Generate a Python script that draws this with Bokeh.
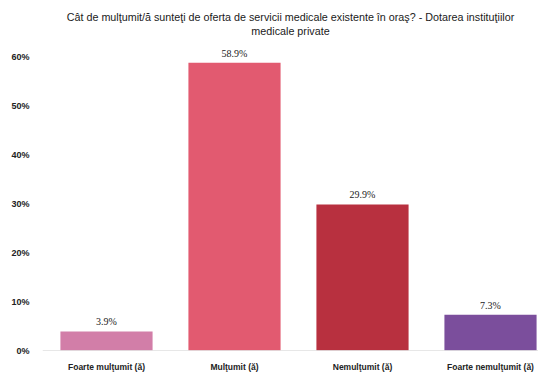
from bokeh.plotting import figure
from bokeh.models import ColumnDataSource, LabelSet, FixedTicker, Span, Title
from bokeh.embed import file_html
from bokeh.resources import INLINE

categories = ["Foarte mulţumit (ă)", "Mulţumit (ă)", "Nemulţumit (ă)", "Foarte nemulţumit (ă)"]
values = [3.9, 58.9, 29.9, 7.3]
colors = ["#d27ea8", "#e25a70", "#b8303f", "#7b4e9c"]
y_ticks = [0, 10, 20, 30, 40, 50, 60]
title_lines = ["Cât de mulţumit/ă sunteţi de oferta de servicii medicale existente în oraş? - Dotarea instituţiilor",
               "medicale private"]

xs = list(range(len(categories)))
src = ColumnDataSource(dict(x=xs, top=values, color=colors,
                            label=[f"{v:.1f}%" for v in values]))

FONT = "Liberation Sans"

p = figure(width=538, height=374, output_backend="svg", toolbar_location=None,
           x_range=(-0.5, 3.375), y_range=(0, 64.3),
           min_border_left=42, min_border_right=0, min_border_top=0, min_border_bottom=0)
p.title = None

title_offsets = [-9, 0]
for line, off in reversed(list(zip(title_lines, title_offsets))):
    p.add_layout(Title(text=line, align="center", text_font=FONT, text_font_size="10.75px",
                       text_font_style="normal", text_color="#1a1a1a",
                       standoff=0, offset=off), "above")
p.add_layout(Title(text=" ", text_font_size="6px", standoff=0, offset=0), "above")

p.vbar(x="x", top="top", width=0.72, bottom=0, color="color", source=src, line_color=None)

labels = LabelSet(x="x", y="top", text="label", source=src, text_align="center",
                  text_baseline="bottom", y_offset=4, text_font=FONT,
                  text_font_size="10px", text_color="#222222")
p.add_layout(labels)

p.add_layout(Span(location=0, dimension="width", line_color="#d0d0d0", line_width=1))

p.xaxis.ticker = FixedTicker(ticks=xs)
p.xaxis.major_label_overrides = {i: c for i, c in enumerate(categories)}
p.yaxis.ticker = FixedTicker(ticks=y_ticks)
p.yaxis.major_label_overrides = {t: f"{t}%" for t in y_ticks}

for ax in (p.xaxis, p.yaxis):
    ax.axis_line_color = None
    ax.major_tick_line_color = None
    ax.minor_tick_line_color = None
    ax.major_label_text_font = FONT
    ax.major_label_text_font_style = "bold"
    ax.major_label_text_color = "#222222"
p.xaxis.major_label_text_font_size = "8.5px"
p.yaxis.major_label_text_font_size = "9px"
p.xaxis.major_label_standoff = 5
p.yaxis.major_label_standoff = 7

p.xgrid.grid_line_color = None
p.ygrid.grid_line_color = None
p.outline_line_color = None

open("out.html", "w").write(file_html(p, INLINE))
